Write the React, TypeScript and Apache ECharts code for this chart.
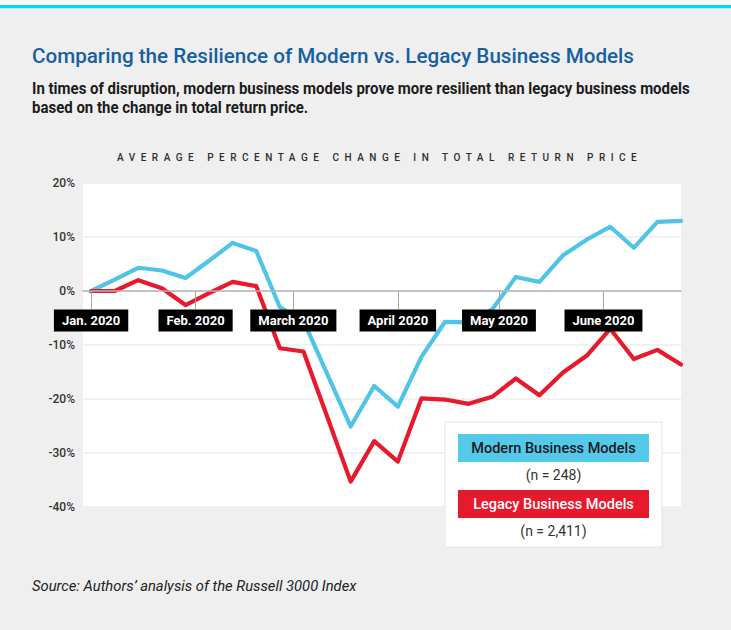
import React, { useEffect, useRef } from "react";
import * as echarts from "echarts";

// ---- data ----
const weekDates = [
  "2020-01-01", "2020-01-08", "2020-01-15", "2020-01-22", "2020-01-29",
  "2020-02-05", "2020-02-12", "2020-02-19", "2020-02-26",
  "2020-03-04", "2020-03-11", "2020-03-18", "2020-03-25",
  "2020-04-01", "2020-04-08", "2020-04-15", "2020-04-22", "2020-04-29",
  "2020-05-06", "2020-05-13", "2020-05-20", "2020-05-27",
  "2020-06-03", "2020-06-10", "2020-06-17", "2020-06-24",
];
const modernValues = [
  0, 2.1, 4.3, 3.8, 2.4, 5.6, 8.9, 7.4, -3.0, -5.5, -15.3, -25.1, -17.6,
  -21.4, -12.2, -5.7, -5.8, -3.4, 2.6, 1.7, 6.6, 9.5, 11.9, 8.0, 12.8, 13.0,
];
const legacyValues = [
  0, 0, 2.0, 0.5, -2.6, -0.4, 1.7, 0.9, -10.6, -11.2, -23.2, -35.3, -27.8,
  -31.6, -19.9, -20.1, -20.9, -19.6, -16.2, -19.3, -15.1, -12.0, -7.0, -12.6,
  -10.9, -13.6,
];
const seriesNames = ["Modern Business Models", "Legacy Business Models"];
const sampleSizes = ["(n = 248)", "(n = 2,411)"];
const monthStarts = [
  "2020-01-01", "2020-02-01", "2020-03-01", "2020-04-01", "2020-05-01", "2020-06-01",
];
const monthLabels = [
  "Jan. 2020", "Feb. 2020", "March 2020", "April 2020", "May 2020", "June 2020",
];
const yMin = -40;
const yMax = 20;
const yStep = 10;

const TITLE = "Comparing the Resilience of Modern vs. Legacy Business Models";
const SUB1 =
  "In times of disruption, modern business models prove more resilient than legacy business models";
const SUB2 = "based on the change in total return price.";
const HEADER = "AVERAGE PERCENTAGE CHANGE IN TOTAL RETURN PRICE";
const SOURCE = "Source: Authors\u2019 analysis of the Russell 3000 Index";

const FAMILY = "Roboto, 'Noto Sans', sans-serif";

const GRID_TOP = 183;
const GRID_HEIGHT = 324;

function dayOf(s: string): number {
  return (Date.parse(s + "T00:00:00Z") - Date.parse("2020-01-01T00:00:00Z")) / 86400000;
}

let ctx: CanvasRenderingContext2D | null = null;
function measure(text: string, font: string): number {
  if (!ctx) ctx = document.createElement("canvas").getContext("2d");
  if (!ctx) return text.length * 7;
  ctx.font = font;
  return ctx.measureText(text).width;
}

export default function App() {
  const ref = useRef<HTMLDivElement>(null);

  useEffect(() => {
    if (!ref.current) return;
    const chart = echarts.init(ref.current, null, { renderer: "svg" });

    const days = weekDates.map(dayOf);
    const monthDays = monthStarts.map(dayOf);

    const titleFont = `500 21px ${FAMILY}`;
    const subFont = `bold 16px ${FAMILY}`;
    const srcFont = `italic 14px ${FAMILY}`;
    const titleScale = 602 / measure(TITLE, titleFont);
    const subScale = 658 / measure(SUB1, subFont);
    const srcScale = 325 / measure(SOURCE, srcFont);

    // move the x axis (line, ticks and labels) up to the 0% level
    const zeroOffset = -GRID_HEIGHT * (0 - yMin) / (yMax - yMin);

    const txt = (
      text: string,
      x: number,
      y: number,
      sx: number,
      style: Record<string, unknown>
    ) => ({
      type: "text",
      x,
      y,
      scaleX: sx,
      silent: true,
      style: { text, align: "left", verticalAlign: "middle", fontFamily: FAMILY, ...style },
    });

    chart.setOption({
      animation: false,
      backgroundColor: "#efefef",
      textStyle: { fontFamily: FAMILY },
      graphic: [
        { type: "rect", shape: { x: 0, y: 0, width: 731, height: 5 }, style: { fill: "#fbfbfb" }, silent: true },
        { type: "rect", shape: { x: 0, y: 5, width: 731, height: 3.2 }, style: { fill: "#00d9fa" }, silent: true },
        txt(TITLE, 32, 55.5, titleScale, { fill: "#17609f", fontSize: 21, fontWeight: 500 }),
        txt(SUB1, 32, 89, subScale, { fill: "#1c1c1c", fontSize: 16, fontWeight: "bold" }),
        txt(SUB2, 32, 107.5, subScale, { fill: "#1c1c1c", fontSize: 16, fontWeight: "bold" }),
        txt(HEADER, 117, 157, 1, { fill: "#2e2e2e", fontSize: 10, fontWeight: 500 }),
        txt(SOURCE, 32, 587, srcScale, { fill: "#222", fontSize: 14, fontStyle: "italic" }),
      ],
      grid: {
        left: 83,
        right: 50,
        top: GRID_TOP,
        height: GRID_HEIGHT,
        show: true,
        backgroundColor: "#ffffff",
        borderWidth: 0,
      },
      legend: {
        orient: "vertical",
        left: 445,
        top: 422,
        padding: [12, 13, 3, 8],
        backgroundColor: "#ffffff",
        borderColor: "#e4e4e4",
        borderWidth: 1,
        itemGap: 2,
        itemWidth: 0,
        itemHeight: 54,
        icon: "none",
        selectedMode: false,
        z: 20,
        data: seriesNames,
        formatter: (name: string) => {
          const i = seriesNames.indexOf(name);
          return `{${i === 0 ? "m" : "l"}|${name}}\n{n|${sampleSizes[i]}}`;
        },
        textStyle: {
          rich: {
            m: {
              width: 191,
              height: 28,
              lineHeight: 28,
              align: "center",
              backgroundColor: "#55c9e9",
              color: "#1a1a1a",
              fontSize: 14.5,
              fontWeight: 500,
              fontFamily: FAMILY,
            },
            l: {
              width: 191,
              height: 28,
              lineHeight: 28,
              align: "center",
              backgroundColor: "#e8192c",
              color: "#ffffff",
              fontSize: 14.5,
              fontWeight: 500,
              fontFamily: FAMILY,
            },
            n: {
              width: 191,
              height: 26,
              lineHeight: 26,
              align: "center",
              color: "#333333",
              fontSize: 14,
              fontWeight: 400,
              fontFamily: FAMILY,
            },
          },
        },
      },
      xAxis: {
        type: "value",
        min: -2.4,
        max: days[days.length - 1],
        position: "bottom",
        offset: zeroOffset,
        z: 10,
        axisLine: { onZero: false, lineStyle: { color: "#b3b3b3", width: 1.6 } },
        axisTick: {
          show: true,
          customValues: monthDays,
          length: 18,
          lineStyle: { color: "#a6a6a6", width: 1 },
        },
        axisLabel: {
          customValues: monthDays,
          formatter: (v: number) => {
            const idx = monthDays.findIndex((d) => Math.abs(d - v) < 0.01);
            return idx >= 0 ? monthLabels[idx] : "";
          },
          color: "#ffffff",
          backgroundColor: "#000000",
          padding: [4, 8, 4, 8],
          lineHeight: 14,
          fontSize: 13,
          fontWeight: "bold",
          fontFamily: FAMILY,
          margin: 18.5,
        },
        splitLine: { show: false },
      },
      yAxis: {
        type: "value",
        min: yMin,
        max: yMax,
        interval: yStep,
        axisLine: { show: false },
        axisTick: { show: false },
        axisLabel: {
          formatter: "{value}%",
          color: "#333333",
          fontSize: 12,
          fontWeight: 500,
          margin: 8,
          fontFamily: FAMILY,
        },
        splitLine: { lineStyle: { color: "#ececec", width: 1.5 } },
      },
      series: [
        {
          name: seriesNames[0],
          type: "line",
          symbol: "none",
          showSymbol: false,
          z: 2,
          clip: false,
          lineStyle: { color: "#50c4e7", width: 4.2, join: "round", cap: "round" },
          itemStyle: { color: "#50c4e7" },
          data: days.map((d, i) => [d, modernValues[i]]),
        },
        {
          name: seriesNames[1],
          type: "line",
          symbol: "none",
          showSymbol: false,
          z: 3,
          clip: false,
          lineStyle: { color: "#e8192c", width: 4.2, join: "round", cap: "round" },
          itemStyle: { color: "#e8192c" },
          data: days.map((d, i) => [d, legacyValues[i]]),
        },
      ],
    });

    const spaceHeader = () => {
      const root = ref.current;
      if (!root) return;
      const w = measure(HEADER, `500 10px ${FAMILY}`);
      const ls = (520 - w) / (HEADER.length - 1);
      root.querySelectorAll("text").forEach((t) => {
        if (t.textContent === HEADER) {
          t.setAttribute("letter-spacing", ls.toFixed(2));
          (t as SVGTextElement).style.letterSpacing = ls.toFixed(2) + "px";
        }
      });
    };
    spaceHeader();
    chart.on("finished", spaceHeader);
    const timer = window.setTimeout(spaceHeader, 50);

    return () => {
      window.clearTimeout(timer);
      chart.dispose();
    };
  }, []);

  return (
    <div
      ref={ref}
      style={{ position: "absolute", left: 0, top: 0, width: 731, height: 630 }}
    />
  );
}
